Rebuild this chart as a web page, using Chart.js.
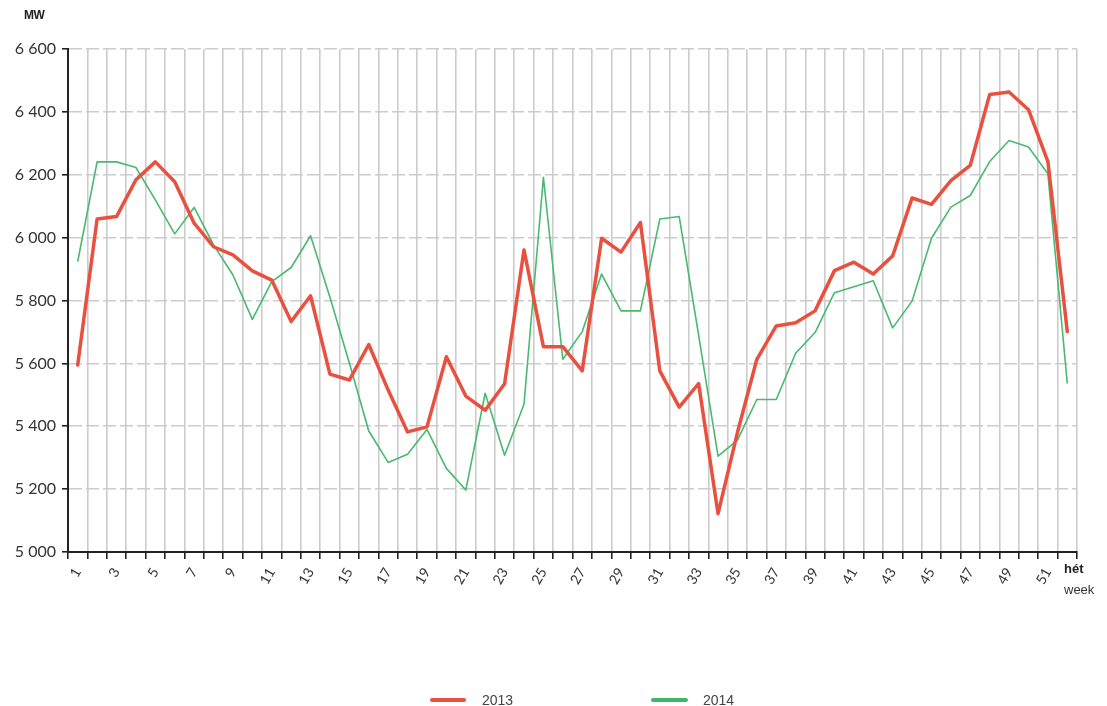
<!DOCTYPE html>
<html>
<head>
<meta charset="utf-8">
<script src="https://cdn.jsdelivr.net/npm/chart.js@4.4.1/dist/chart.umd.min.js"></script>
<style>
  html, body { margin: 0; padding: 0; background: #fff; }
  #wrap { position: relative; width: 1107px; height: 706px; overflow: hidden; }
  #c { position: absolute; left: 0; top: 0; }
  .lbl { position: absolute; font-family: "Liberation Sans", Arial, sans-serif; color: #222; white-space: nowrap; }
  .leg-line { position: absolute; height: 4px; border-radius: 2px; }
  .leg-text { position: absolute; font-family: "Liberation Sans", Arial, sans-serif; font-size: 14px; color: #444; }
</style>
</head>
<body>
<div id="wrap">
  <canvas id="c" width="1107" height="706"></canvas>
  <div class="lbl" style="left:24px;top:8px;font-size:12px;font-weight:900;letter-spacing:-0.5px;">MW</div>
  <div class="lbl" style="left:1064px;top:561px;font-size:13px;font-weight:700;">hét</div>
  <div class="lbl" style="left:1064px;top:582px;font-size:13px;color:#333;">week</div>
  <div class="leg-line" style="left:430px;top:698px;width:36px;background:#E8503F;"></div>
  <div class="leg-text" style="left:482px;top:692px;">2013</div>
  <div class="leg-line" style="left:651px;top:698px;width:37px;background:#3DB86A;"></div>
  <div class="leg-text" style="left:703px;top:692px;">2014</div>
</div>
<script>
const weeks = Array.from({length: 52}, (_, i) => String(i + 1));
const series2013 = [5595, 6059, 6067, 6184, 6241, 6178, 6046, 5971, 5945, 5894, 5865, 5733, 5815, 5566, 5547, 5660, 5515, 5382, 5398, 5621, 5496, 5451, 5535, 5961, 5653, 5653, 5576, 5998, 5954, 6048, 5576, 5461, 5536, 5122, 5380, 5613, 5719, 5729, 5767, 5895, 5922, 5884, 5942, 6126, 6106, 6181, 6230, 6455, 6463, 6407, 6242, 5701];
const series2014 = [5924, 6241, 6241, 6223, 6120, 6012, 6096, 5977, 5881, 5740, 5860, 5905, 6006, 5810, 5601, 5385, 5285, 5311, 5390, 5266, 5197, 5505, 5308, 5470, 6192, 5613, 5701, 5884, 5767, 5767, 6059, 6067, 5690, 5305, 5356, 5485, 5485, 5632, 5698, 5825, 5844, 5863, 5713, 5798, 5998, 6097, 6134, 6242, 6309, 6288, 6203, 5536];
const yMin = 5000, yMax = 6600, yStep = 200;

const fmt = v => String(v).replace(/\B(?=(\d{3})+(?!\d))/g, ' ');

new Chart(document.getElementById('c'), {
  type: 'line',
  data: {
    labels: weeks,
    datasets: [
      { label: '2013', data: series2013, borderColor: '#E8503F', borderWidth: 3.5, pointRadius: 0, tension: 0, borderJoinStyle: 'round', borderCapStyle: 'round' },
      { label: '2014', data: series2014, borderColor: '#48B96E', borderWidth: 1.6, pointRadius: 0, tension: 0, borderJoinStyle: 'round' }
    ]
  },
  options: {
    responsive: false,
    animation: false,
    events: [],
    layout: { padding: { left: 0, right: 30, top: 49, bottom: 0 } },
    plugins: { legend: { display: false }, tooltip: { enabled: false } },
    scales: {
      x: {
        type: 'category',
        offset: true,
        grid: { offset: true, color: '#cccccc', lineWidth: 1.6, tickColor: '#222', tickLength: 7, tickWidth: 1.6 },
        border: { color: '#222', width: 2 },
        ticks: {
          autoSkip: false, minRotation: 60, maxRotation: 60, padding: 6,
          color: '#333', font: { family: 'Lato, "Liberation Sans", sans-serif', size: 14 },
          callback: function(val, idx) { return idx % 2 === 0 ? this.getLabelForValue(val) : ''; }
        },
        afterFit: s => { s.height = 154; }
      },
      y: {
        min: yMin, max: yMax,
        grid: { color: '#cccccc', lineWidth: 1.6, tickColor: '#222', tickLength: 6, tickWidth: 1.6 },
        border: { color: '#222', width: 2, dash: [13, 4] },
        ticks: {
          stepSize: yStep, padding: 6, color: '#333',
          font: { family: 'Lato, "Liberation Sans", sans-serif', size: 16 },
          callback: v => fmt(v)
        },
        afterFit: s => { s.width = 68; }
      }
    }
  }
});
</script>
</body>
</html>
